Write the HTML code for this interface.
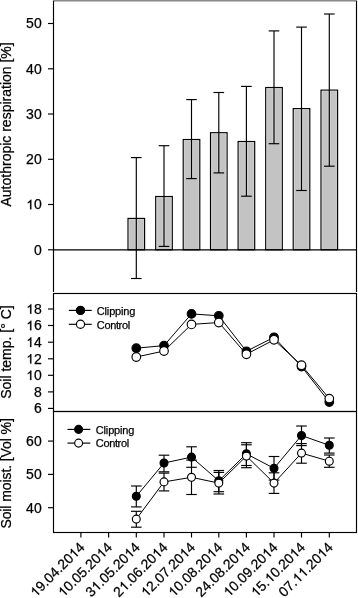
<!DOCTYPE html>
<html><head><meta charset="utf-8"><style>
html,body{margin:0;padding:0;background:#fff;}
body{width:358px;height:598px;overflow:hidden;}
svg{display:block;will-change:transform;-webkit-font-smoothing:antialiased;}
.t{font-family:"Liberation Sans", sans-serif;font-size:14px;fill:#000;}
.x{font-family:"Liberation Sans", sans-serif;font-size:14px;fill:#000;}
.s{font-family:"Liberation Sans", sans-serif;font-size:11px;fill:#000;}
text{stroke:#000;stroke-width:0.25px;}
</style></head><body>
<svg width="358" height="598" viewBox="0 0 358 598">
<rect x="53" y="0" width="304" height="1" fill="#8a8a8a"/>
<rect x="53" y="1" width="304" height="1" fill="#c0c0c0"/>
<line x1="53.5" y1="1" x2="53.5" y2="292" stroke="#000" stroke-width="1.15"/>
<line x1="356.5" y1="1" x2="356.5" y2="292" stroke="#000" stroke-width="1.15"/>
<line x1="48" y1="23.5" x2="53.5" y2="23.5" stroke="#000" stroke-width="1.15"/>
<text x="41.7" y="28.3" text-anchor="end" class="t">50</text>
<line x1="48" y1="68.8" x2="53.5" y2="68.8" stroke="#000" stroke-width="1.15"/>
<text x="41.7" y="73.6" text-anchor="end" class="t">40</text>
<line x1="48" y1="114.0" x2="53.5" y2="114.0" stroke="#000" stroke-width="1.15"/>
<text x="41.7" y="118.8" text-anchor="end" class="t">30</text>
<line x1="48" y1="159.3" x2="53.5" y2="159.3" stroke="#000" stroke-width="1.15"/>
<text x="41.7" y="164.1" text-anchor="end" class="t">20</text>
<line x1="48" y1="204.5" x2="53.5" y2="204.5" stroke="#000" stroke-width="1.15"/>
<text x="41.7" y="209.3" text-anchor="end" class="t"> 0</text>
<path transform="translate(26.128,209.300) scale(0.006836,-0.006836)" stroke="#000" stroke-width="36.6" d="M583,0L763,0L763,1409L646,1409Q600,1300 490,1200Q380,1100 248,1040L248,870Q330,900 420,955Q520,1015 583,1075Z"/>
<line x1="48" y1="249.8" x2="53.5" y2="249.8" stroke="#000" stroke-width="1.15"/>
<text x="41.7" y="254.6" text-anchor="end" class="t">0</text>
<rect x="128.00" y="218.4" width="16.6" height="31.4" fill="#c3c3c3" stroke="#000" stroke-width="1.15"/>
<rect x="155.70" y="196.5" width="16.6" height="53.3" fill="#c3c3c3" stroke="#000" stroke-width="1.15"/>
<rect x="183.20" y="139.5" width="16.6" height="110.3" fill="#c3c3c3" stroke="#000" stroke-width="1.15"/>
<rect x="210.50" y="132.7" width="16.6" height="117.1" fill="#c3c3c3" stroke="#000" stroke-width="1.15"/>
<rect x="238.10" y="141.5" width="16.6" height="108.3" fill="#c3c3c3" stroke="#000" stroke-width="1.15"/>
<rect x="265.70" y="87.5" width="16.6" height="162.3" fill="#c3c3c3" stroke="#000" stroke-width="1.15"/>
<rect x="293.20" y="108.6" width="16.6" height="141.2" fill="#c3c3c3" stroke="#000" stroke-width="1.15"/>
<rect x="321.00" y="90.1" width="16.6" height="159.7" fill="#c3c3c3" stroke="#000" stroke-width="1.15"/>
<line x1="129.25" y1="219.6" x2="129.25" y2="248.8" stroke="#d2d2d2" stroke-width="0.8"/>
<line x1="143.35" y1="219.6" x2="143.35" y2="248.8" stroke="#d2d2d2" stroke-width="0.8"/>
<line x1="135.05" y1="219.6" x2="135.05" y2="248.8" stroke="#d2d2d2" stroke-width="0.8"/>
<line x1="137.55" y1="219.6" x2="137.55" y2="248.8" stroke="#d2d2d2" stroke-width="0.8"/>
<line x1="129.00" y1="219.7" x2="143.60" y2="219.7" stroke="#d2d2d2" stroke-width="0.8"/>
<line x1="156.95" y1="197.7" x2="156.95" y2="248.8" stroke="#d2d2d2" stroke-width="0.8"/>
<line x1="171.05" y1="197.7" x2="171.05" y2="248.8" stroke="#d2d2d2" stroke-width="0.8"/>
<line x1="162.75" y1="197.7" x2="162.75" y2="245.2" stroke="#d2d2d2" stroke-width="0.8"/>
<line x1="165.25" y1="197.7" x2="165.25" y2="245.2" stroke="#d2d2d2" stroke-width="0.8"/>
<line x1="156.70" y1="197.8" x2="171.30" y2="197.8" stroke="#d2d2d2" stroke-width="0.8"/>
<line x1="184.45" y1="140.7" x2="184.45" y2="248.8" stroke="#d2d2d2" stroke-width="0.8"/>
<line x1="198.55" y1="140.7" x2="198.55" y2="248.8" stroke="#d2d2d2" stroke-width="0.8"/>
<line x1="190.25" y1="140.7" x2="190.25" y2="177.4" stroke="#d2d2d2" stroke-width="0.8"/>
<line x1="192.75" y1="140.7" x2="192.75" y2="177.4" stroke="#d2d2d2" stroke-width="0.8"/>
<line x1="184.20" y1="140.8" x2="198.80" y2="140.8" stroke="#d2d2d2" stroke-width="0.8"/>
<line x1="211.75" y1="133.9" x2="211.75" y2="248.8" stroke="#d2d2d2" stroke-width="0.8"/>
<line x1="225.85" y1="133.9" x2="225.85" y2="248.8" stroke="#d2d2d2" stroke-width="0.8"/>
<line x1="217.55" y1="133.9" x2="217.55" y2="171.7" stroke="#d2d2d2" stroke-width="0.8"/>
<line x1="220.05" y1="133.9" x2="220.05" y2="171.7" stroke="#d2d2d2" stroke-width="0.8"/>
<line x1="211.50" y1="133.9" x2="226.10" y2="133.9" stroke="#d2d2d2" stroke-width="0.8"/>
<line x1="239.35" y1="142.7" x2="239.35" y2="248.8" stroke="#d2d2d2" stroke-width="0.8"/>
<line x1="253.45" y1="142.7" x2="253.45" y2="248.8" stroke="#d2d2d2" stroke-width="0.8"/>
<line x1="245.15" y1="142.7" x2="245.15" y2="195.0" stroke="#d2d2d2" stroke-width="0.8"/>
<line x1="247.65" y1="142.7" x2="247.65" y2="195.0" stroke="#d2d2d2" stroke-width="0.8"/>
<line x1="239.10" y1="142.8" x2="253.70" y2="142.8" stroke="#d2d2d2" stroke-width="0.8"/>
<line x1="266.95" y1="88.7" x2="266.95" y2="248.8" stroke="#d2d2d2" stroke-width="0.8"/>
<line x1="281.05" y1="88.7" x2="281.05" y2="248.8" stroke="#d2d2d2" stroke-width="0.8"/>
<line x1="272.75" y1="88.7" x2="272.75" y2="142.5" stroke="#d2d2d2" stroke-width="0.8"/>
<line x1="275.25" y1="88.7" x2="275.25" y2="142.5" stroke="#d2d2d2" stroke-width="0.8"/>
<line x1="266.70" y1="88.8" x2="281.30" y2="88.8" stroke="#d2d2d2" stroke-width="0.8"/>
<line x1="294.45" y1="109.8" x2="294.45" y2="248.8" stroke="#d2d2d2" stroke-width="0.8"/>
<line x1="308.55" y1="109.8" x2="308.55" y2="248.8" stroke="#d2d2d2" stroke-width="0.8"/>
<line x1="300.25" y1="109.8" x2="300.25" y2="189.3" stroke="#d2d2d2" stroke-width="0.8"/>
<line x1="302.75" y1="109.8" x2="302.75" y2="189.3" stroke="#d2d2d2" stroke-width="0.8"/>
<line x1="294.20" y1="109.8" x2="308.80" y2="109.8" stroke="#d2d2d2" stroke-width="0.8"/>
<line x1="322.25" y1="91.3" x2="322.25" y2="248.8" stroke="#d2d2d2" stroke-width="0.8"/>
<line x1="336.35" y1="91.3" x2="336.35" y2="248.8" stroke="#d2d2d2" stroke-width="0.8"/>
<line x1="328.05" y1="91.3" x2="328.05" y2="165.0" stroke="#d2d2d2" stroke-width="0.8"/>
<line x1="330.55" y1="91.3" x2="330.55" y2="165.0" stroke="#d2d2d2" stroke-width="0.8"/>
<line x1="322.00" y1="91.3" x2="336.60" y2="91.3" stroke="#d2d2d2" stroke-width="0.8"/>
<line x1="136.30" y1="157.6" x2="136.30" y2="278.5" stroke="#000" stroke-width="1.15"/>
<line x1="131.00" y1="157.6" x2="141.60" y2="157.6" stroke="#000" stroke-width="1.15"/>
<line x1="131.00" y1="278.5" x2="141.60" y2="278.5" stroke="#000" stroke-width="1.15"/>
<line x1="164.00" y1="145.7" x2="164.00" y2="246.4" stroke="#000" stroke-width="1.15"/>
<line x1="158.70" y1="145.7" x2="169.30" y2="145.7" stroke="#000" stroke-width="1.15"/>
<line x1="158.70" y1="246.4" x2="169.30" y2="246.4" stroke="#000" stroke-width="1.15"/>
<line x1="191.50" y1="99.6" x2="191.50" y2="178.6" stroke="#000" stroke-width="1.15"/>
<line x1="186.20" y1="99.6" x2="196.80" y2="99.6" stroke="#000" stroke-width="1.15"/>
<line x1="186.20" y1="178.6" x2="196.80" y2="178.6" stroke="#000" stroke-width="1.15"/>
<line x1="218.80" y1="92.5" x2="218.80" y2="172.9" stroke="#000" stroke-width="1.15"/>
<line x1="213.50" y1="92.5" x2="224.10" y2="92.5" stroke="#000" stroke-width="1.15"/>
<line x1="213.50" y1="172.9" x2="224.10" y2="172.9" stroke="#000" stroke-width="1.15"/>
<line x1="246.40" y1="86.4" x2="246.40" y2="196.2" stroke="#000" stroke-width="1.15"/>
<line x1="241.10" y1="86.4" x2="251.70" y2="86.4" stroke="#000" stroke-width="1.15"/>
<line x1="241.10" y1="196.2" x2="251.70" y2="196.2" stroke="#000" stroke-width="1.15"/>
<line x1="274.00" y1="30.9" x2="274.00" y2="143.7" stroke="#000" stroke-width="1.15"/>
<line x1="268.70" y1="30.9" x2="279.30" y2="30.9" stroke="#000" stroke-width="1.15"/>
<line x1="268.70" y1="143.7" x2="279.30" y2="143.7" stroke="#000" stroke-width="1.15"/>
<line x1="301.50" y1="27.1" x2="301.50" y2="190.5" stroke="#000" stroke-width="1.15"/>
<line x1="296.20" y1="27.1" x2="306.80" y2="27.1" stroke="#000" stroke-width="1.15"/>
<line x1="296.20" y1="190.5" x2="306.80" y2="190.5" stroke="#000" stroke-width="1.15"/>
<line x1="329.30" y1="14.0" x2="329.30" y2="166.2" stroke="#000" stroke-width="1.15"/>
<line x1="324.00" y1="14.0" x2="334.60" y2="14.0" stroke="#000" stroke-width="1.15"/>
<line x1="324.00" y1="166.2" x2="334.60" y2="166.2" stroke="#000" stroke-width="1.15"/>
<line x1="53.5" y1="249.8" x2="356.5" y2="249.8" stroke="#000" stroke-width="1.15"/>
<text transform="translate(10.6,206.5) rotate(-90)" class="t">Autothropic respiration [%]</text>
<rect x="53.5" y="293.5" width="303" height="118" fill="none" stroke="#000" stroke-width="1.15"/>
<line x1="48" y1="309.0" x2="53.5" y2="309.0" stroke="#000" stroke-width="1.15"/>
<text x="41.7" y="313.8" text-anchor="end" class="t"> 8</text>
<path transform="translate(26.128,313.800) scale(0.006836,-0.006836)" stroke="#000" stroke-width="36.6" d="M583,0L763,0L763,1409L646,1409Q600,1300 490,1200Q380,1100 248,1040L248,870Q330,900 420,955Q520,1015 583,1075Z"/>
<line x1="48" y1="325.5" x2="53.5" y2="325.5" stroke="#000" stroke-width="1.15"/>
<text x="41.7" y="330.3" text-anchor="end" class="t"> 6</text>
<path transform="translate(26.128,330.300) scale(0.006836,-0.006836)" stroke="#000" stroke-width="36.6" d="M583,0L763,0L763,1409L646,1409Q600,1300 490,1200Q380,1100 248,1040L248,870Q330,900 420,955Q520,1015 583,1075Z"/>
<line x1="48" y1="342.2" x2="53.5" y2="342.2" stroke="#000" stroke-width="1.15"/>
<text x="41.7" y="347.0" text-anchor="end" class="t"> 4</text>
<path transform="translate(26.128,347.000) scale(0.006836,-0.006836)" stroke="#000" stroke-width="36.6" d="M583,0L763,0L763,1409L646,1409Q600,1300 490,1200Q380,1100 248,1040L248,870Q330,900 420,955Q520,1015 583,1075Z"/>
<line x1="48" y1="358.8" x2="53.5" y2="358.8" stroke="#000" stroke-width="1.15"/>
<text x="41.7" y="363.6" text-anchor="end" class="t"> 2</text>
<path transform="translate(26.128,363.600) scale(0.006836,-0.006836)" stroke="#000" stroke-width="36.6" d="M583,0L763,0L763,1409L646,1409Q600,1300 490,1200Q380,1100 248,1040L248,870Q330,900 420,955Q520,1015 583,1075Z"/>
<line x1="48" y1="375.3" x2="53.5" y2="375.3" stroke="#000" stroke-width="1.15"/>
<text x="41.7" y="380.1" text-anchor="end" class="t"> 0</text>
<path transform="translate(26.128,380.100) scale(0.006836,-0.006836)" stroke="#000" stroke-width="36.6" d="M583,0L763,0L763,1409L646,1409Q600,1300 490,1200Q380,1100 248,1040L248,870Q330,900 420,955Q520,1015 583,1075Z"/>
<line x1="48" y1="391.9" x2="53.5" y2="391.9" stroke="#000" stroke-width="1.15"/>
<text x="41.7" y="396.7" text-anchor="end" class="t">8</text>
<line x1="48" y1="408.4" x2="53.5" y2="408.4" stroke="#000" stroke-width="1.15"/>
<text x="41.7" y="413.2" text-anchor="end" class="t">6</text>
<path d="M136.30,348.2 L164.00,345.6 L191.50,313.9 L218.80,315.8 L246.40,351.3 L274.00,337.3 L301.50,366.5 L329.30,402.0" fill="none" stroke="#000" stroke-width="1"/>
<circle cx="136.30" cy="348.2" r="4.3" fill="#000" stroke="#000" stroke-width="1.15"/>
<circle cx="164.00" cy="345.6" r="4.3" fill="#000" stroke="#000" stroke-width="1.15"/>
<circle cx="191.50" cy="313.9" r="4.3" fill="#000" stroke="#000" stroke-width="1.15"/>
<circle cx="218.80" cy="315.8" r="4.3" fill="#000" stroke="#000" stroke-width="1.15"/>
<circle cx="246.40" cy="351.3" r="4.3" fill="#000" stroke="#000" stroke-width="1.15"/>
<circle cx="274.00" cy="337.3" r="4.3" fill="#000" stroke="#000" stroke-width="1.15"/>
<circle cx="301.50" cy="366.5" r="4.3" fill="#000" stroke="#000" stroke-width="1.15"/>
<circle cx="329.30" cy="402.0" r="4.3" fill="#000" stroke="#000" stroke-width="1.15"/>
<path d="M136.30,357.0 L164.00,351.0 L191.50,324.4 L218.80,322.5 L246.40,354.3 L274.00,339.8 L301.50,365.2 L329.30,398.6" fill="none" stroke="#000" stroke-width="1"/>
<circle cx="136.30" cy="357.0" r="4.3" fill="#fff" stroke="#000" stroke-width="1.15"/>
<circle cx="164.00" cy="351.0" r="4.3" fill="#fff" stroke="#000" stroke-width="1.15"/>
<circle cx="191.50" cy="324.4" r="4.3" fill="#fff" stroke="#000" stroke-width="1.15"/>
<circle cx="218.80" cy="322.5" r="4.3" fill="#fff" stroke="#000" stroke-width="1.15"/>
<circle cx="246.40" cy="354.3" r="4.3" fill="#fff" stroke="#000" stroke-width="1.15"/>
<circle cx="274.00" cy="339.8" r="4.3" fill="#fff" stroke="#000" stroke-width="1.15"/>
<circle cx="301.50" cy="365.2" r="4.3" fill="#fff" stroke="#000" stroke-width="1.15"/>
<circle cx="329.30" cy="398.6" r="4.3" fill="#fff" stroke="#000" stroke-width="1.15"/>
<line x1="68.8" y1="310.4" x2="91.7" y2="310.4" stroke="#000" stroke-width="1.15"/>
<circle cx="80.5" cy="310.4" r="4.1" fill="#000" stroke="#000" stroke-width="1.15"/>
<text x="96.8" y="314.6" textLength="38.6" lengthAdjust="spacing" class="s">Clipping</text>
<line x1="68.8" y1="324.3" x2="91.7" y2="324.3" stroke="#000" stroke-width="1.15"/>
<circle cx="80.5" cy="324.3" r="4.1" fill="#fff" stroke="#000" stroke-width="1.15"/>
<text x="96.8" y="328.5" textLength="33.3" lengthAdjust="spacing" class="s">Control</text>
<text transform="translate(10.6,398.8) rotate(-90)" class="t">Soil temp.  [° C]</text>
<rect x="53.5" y="411.5" width="303" height="121" fill="none" stroke="#000" stroke-width="1.15"/>
<line x1="48" y1="441.1" x2="53.5" y2="441.1" stroke="#000" stroke-width="1.15"/>
<text x="41.7" y="445.9" text-anchor="end" class="t">60</text>
<line x1="48" y1="474.4" x2="53.5" y2="474.4" stroke="#000" stroke-width="1.15"/>
<text x="41.7" y="479.2" text-anchor="end" class="t">50</text>
<line x1="48" y1="507.7" x2="53.5" y2="507.7" stroke="#000" stroke-width="1.15"/>
<text x="41.7" y="512.5" text-anchor="end" class="t">40</text>
<path d="M136.30,496.3 L164.00,463.0 L191.50,457.1 L218.80,480.8 L246.40,453.8 L274.00,468.3 L301.50,435.5 L329.30,445.3" fill="none" stroke="#000" stroke-width="1"/>
<line x1="136.30" y1="486.0" x2="136.30" y2="506.9" stroke="#000" stroke-width="1.15"/>
<line x1="131.00" y1="486.0" x2="141.60" y2="486.0" stroke="#000" stroke-width="1.15"/>
<line x1="131.00" y1="506.9" x2="141.60" y2="506.9" stroke="#000" stroke-width="1.15"/>
<line x1="164.00" y1="455.2" x2="164.00" y2="471.8" stroke="#000" stroke-width="1.15"/>
<line x1="158.70" y1="455.2" x2="169.30" y2="455.2" stroke="#000" stroke-width="1.15"/>
<line x1="158.70" y1="471.8" x2="169.30" y2="471.8" stroke="#000" stroke-width="1.15"/>
<line x1="191.50" y1="446.8" x2="191.50" y2="467.3" stroke="#000" stroke-width="1.15"/>
<line x1="186.20" y1="446.8" x2="196.80" y2="446.8" stroke="#000" stroke-width="1.15"/>
<line x1="186.20" y1="467.3" x2="196.80" y2="467.3" stroke="#000" stroke-width="1.15"/>
<line x1="218.80" y1="470.5" x2="218.80" y2="491.7" stroke="#000" stroke-width="1.15"/>
<line x1="213.50" y1="470.5" x2="224.10" y2="470.5" stroke="#000" stroke-width="1.15"/>
<line x1="213.50" y1="491.7" x2="224.10" y2="491.7" stroke="#000" stroke-width="1.15"/>
<line x1="246.40" y1="442.7" x2="246.40" y2="465.5" stroke="#000" stroke-width="1.15"/>
<line x1="241.10" y1="442.7" x2="251.70" y2="442.7" stroke="#000" stroke-width="1.15"/>
<line x1="241.10" y1="465.5" x2="251.70" y2="465.5" stroke="#000" stroke-width="1.15"/>
<line x1="274.00" y1="456.5" x2="274.00" y2="480.1" stroke="#000" stroke-width="1.15"/>
<line x1="268.70" y1="456.5" x2="279.30" y2="456.5" stroke="#000" stroke-width="1.15"/>
<line x1="268.70" y1="480.1" x2="279.30" y2="480.1" stroke="#000" stroke-width="1.15"/>
<line x1="301.50" y1="426.0" x2="301.50" y2="445.6" stroke="#000" stroke-width="1.15"/>
<line x1="296.20" y1="426.0" x2="306.80" y2="426.0" stroke="#000" stroke-width="1.15"/>
<line x1="296.20" y1="445.6" x2="306.80" y2="445.6" stroke="#000" stroke-width="1.15"/>
<line x1="329.30" y1="438.0" x2="329.30" y2="453.1" stroke="#000" stroke-width="1.15"/>
<line x1="324.00" y1="438.0" x2="334.60" y2="438.0" stroke="#000" stroke-width="1.15"/>
<line x1="324.00" y1="453.1" x2="334.60" y2="453.1" stroke="#000" stroke-width="1.15"/>
<circle cx="136.30" cy="496.3" r="3.95" fill="#000" stroke="#000" stroke-width="1.15"/>
<circle cx="164.00" cy="463.0" r="3.95" fill="#000" stroke="#000" stroke-width="1.15"/>
<circle cx="191.50" cy="457.1" r="3.95" fill="#000" stroke="#000" stroke-width="1.15"/>
<circle cx="218.80" cy="480.8" r="3.95" fill="#000" stroke="#000" stroke-width="1.15"/>
<circle cx="246.40" cy="453.8" r="3.95" fill="#000" stroke="#000" stroke-width="1.15"/>
<circle cx="274.00" cy="468.3" r="3.95" fill="#000" stroke="#000" stroke-width="1.15"/>
<circle cx="301.50" cy="435.5" r="3.95" fill="#000" stroke="#000" stroke-width="1.15"/>
<circle cx="329.30" cy="445.3" r="3.95" fill="#000" stroke="#000" stroke-width="1.15"/>
<path d="M136.30,519.1 L164.00,481.9 L191.50,477.3 L218.80,483.1 L246.40,456.1 L274.00,483.1 L301.50,453.1 L329.30,461.2" fill="none" stroke="#000" stroke-width="1"/>
<line x1="136.30" y1="511.3" x2="136.30" y2="527.2" stroke="#000" stroke-width="1.15"/>
<line x1="131.00" y1="511.3" x2="141.60" y2="511.3" stroke="#000" stroke-width="1.15"/>
<line x1="131.00" y1="527.2" x2="141.60" y2="527.2" stroke="#000" stroke-width="1.15"/>
<line x1="164.00" y1="473.1" x2="164.00" y2="490.9" stroke="#000" stroke-width="1.15"/>
<line x1="158.70" y1="473.1" x2="169.30" y2="473.1" stroke="#000" stroke-width="1.15"/>
<line x1="158.70" y1="490.9" x2="169.30" y2="490.9" stroke="#000" stroke-width="1.15"/>
<line x1="191.50" y1="460.1" x2="191.50" y2="494.5" stroke="#000" stroke-width="1.15"/>
<line x1="186.20" y1="460.1" x2="196.80" y2="460.1" stroke="#000" stroke-width="1.15"/>
<line x1="186.20" y1="494.5" x2="196.80" y2="494.5" stroke="#000" stroke-width="1.15"/>
<line x1="218.80" y1="472.4" x2="218.80" y2="494.0" stroke="#000" stroke-width="1.15"/>
<line x1="213.50" y1="472.4" x2="224.10" y2="472.4" stroke="#000" stroke-width="1.15"/>
<line x1="213.50" y1="494.0" x2="224.10" y2="494.0" stroke="#000" stroke-width="1.15"/>
<line x1="246.40" y1="444.8" x2="246.40" y2="467.7" stroke="#000" stroke-width="1.15"/>
<line x1="241.10" y1="444.8" x2="251.70" y2="444.8" stroke="#000" stroke-width="1.15"/>
<line x1="241.10" y1="467.7" x2="251.70" y2="467.7" stroke="#000" stroke-width="1.15"/>
<line x1="274.00" y1="472.8" x2="274.00" y2="493.4" stroke="#000" stroke-width="1.15"/>
<line x1="268.70" y1="472.8" x2="279.30" y2="472.8" stroke="#000" stroke-width="1.15"/>
<line x1="268.70" y1="493.4" x2="279.30" y2="493.4" stroke="#000" stroke-width="1.15"/>
<line x1="301.50" y1="443.6" x2="301.50" y2="463.2" stroke="#000" stroke-width="1.15"/>
<line x1="296.20" y1="443.6" x2="306.80" y2="443.6" stroke="#000" stroke-width="1.15"/>
<line x1="296.20" y1="463.2" x2="306.80" y2="463.2" stroke="#000" stroke-width="1.15"/>
<line x1="329.30" y1="455.0" x2="329.30" y2="467.3" stroke="#000" stroke-width="1.15"/>
<line x1="324.00" y1="455.0" x2="334.60" y2="455.0" stroke="#000" stroke-width="1.15"/>
<line x1="324.00" y1="467.3" x2="334.60" y2="467.3" stroke="#000" stroke-width="1.15"/>
<circle cx="136.30" cy="519.1" r="3.95" fill="#fff" stroke="#000" stroke-width="1.15"/>
<circle cx="164.00" cy="481.9" r="3.95" fill="#fff" stroke="#000" stroke-width="1.15"/>
<circle cx="191.50" cy="477.3" r="3.95" fill="#fff" stroke="#000" stroke-width="1.15"/>
<circle cx="218.80" cy="483.1" r="3.95" fill="#fff" stroke="#000" stroke-width="1.15"/>
<circle cx="246.40" cy="456.1" r="3.95" fill="#fff" stroke="#000" stroke-width="1.15"/>
<circle cx="274.00" cy="483.1" r="3.95" fill="#fff" stroke="#000" stroke-width="1.15"/>
<circle cx="301.50" cy="453.1" r="3.95" fill="#fff" stroke="#000" stroke-width="1.15"/>
<circle cx="329.30" cy="461.2" r="3.95" fill="#fff" stroke="#000" stroke-width="1.15"/>
<line x1="67.5" y1="429.4" x2="90.3" y2="429.4" stroke="#000" stroke-width="1.15"/>
<circle cx="78.6" cy="429.4" r="3.95" fill="#000" stroke="#000" stroke-width="1.15"/>
<text x="95.8" y="433.6" textLength="38.6" lengthAdjust="spacing" class="s">Clipping</text>
<line x1="67.5" y1="443.1" x2="90.3" y2="443.1" stroke="#000" stroke-width="1.15"/>
<circle cx="78.6" cy="443.1" r="3.95" fill="#fff" stroke="#000" stroke-width="1.15"/>
<text x="95.8" y="447.3" textLength="33.3" lengthAdjust="spacing" class="s">Control</text>
<text transform="translate(10.6,528.6) rotate(-90)" textLength="110.4" lengthAdjust="spacing" class="t">Soil moist.  [Vol %]</text>
<line x1="80.90" y1="532" x2="80.90" y2="537.5" stroke="#000" stroke-width="1.15"/>
<text transform="translate(85.40,548.2) rotate(-45)" text-anchor="end" class="x"> 9.04.20 4</text>
<path transform="translate(85.40,548.2) rotate(-45) translate(-70.068,0.000) scale(0.006836,-0.006836)" stroke="#000" stroke-width="36.6" d="M583,0L763,0L763,1409L646,1409Q600,1300 490,1200Q380,1100 248,1040L248,870Q330,900 420,955Q520,1015 583,1075Z"/>
<path transform="translate(85.40,548.2) rotate(-45) translate(-15.572,0.000) scale(0.006836,-0.006836)" stroke="#000" stroke-width="36.6" d="M583,0L763,0L763,1409L646,1409Q600,1300 490,1200Q380,1100 248,1040L248,870Q330,900 420,955Q520,1015 583,1075Z"/>
<line x1="108.60" y1="532" x2="108.60" y2="537.5" stroke="#000" stroke-width="1.15"/>
<text transform="translate(113.10,548.2) rotate(-45)" text-anchor="end" class="x"> 0.05.20 4</text>
<path transform="translate(113.10,548.2) rotate(-45) translate(-70.068,0.000) scale(0.006836,-0.006836)" stroke="#000" stroke-width="36.6" d="M583,0L763,0L763,1409L646,1409Q600,1300 490,1200Q380,1100 248,1040L248,870Q330,900 420,955Q520,1015 583,1075Z"/>
<path transform="translate(113.10,548.2) rotate(-45) translate(-15.572,0.000) scale(0.006836,-0.006836)" stroke="#000" stroke-width="36.6" d="M583,0L763,0L763,1409L646,1409Q600,1300 490,1200Q380,1100 248,1040L248,870Q330,900 420,955Q520,1015 583,1075Z"/>
<line x1="136.30" y1="532" x2="136.30" y2="537.5" stroke="#000" stroke-width="1.15"/>
<text transform="translate(140.80,548.2) rotate(-45)" text-anchor="end" class="x">3 .05.20 4</text>
<path transform="translate(140.80,548.2) rotate(-45) translate(-62.282,0.000) scale(0.006836,-0.006836)" stroke="#000" stroke-width="36.6" d="M583,0L763,0L763,1409L646,1409Q600,1300 490,1200Q380,1100 248,1040L248,870Q330,900 420,955Q520,1015 583,1075Z"/>
<path transform="translate(140.80,548.2) rotate(-45) translate(-15.572,0.000) scale(0.006836,-0.006836)" stroke="#000" stroke-width="36.6" d="M583,0L763,0L763,1409L646,1409Q600,1300 490,1200Q380,1100 248,1040L248,870Q330,900 420,955Q520,1015 583,1075Z"/>
<line x1="164.00" y1="532" x2="164.00" y2="537.5" stroke="#000" stroke-width="1.15"/>
<text transform="translate(168.50,548.2) rotate(-45)" text-anchor="end" class="x">2 .06.20 4</text>
<path transform="translate(168.50,548.2) rotate(-45) translate(-62.282,0.000) scale(0.006836,-0.006836)" stroke="#000" stroke-width="36.6" d="M583,0L763,0L763,1409L646,1409Q600,1300 490,1200Q380,1100 248,1040L248,870Q330,900 420,955Q520,1015 583,1075Z"/>
<path transform="translate(168.50,548.2) rotate(-45) translate(-15.572,0.000) scale(0.006836,-0.006836)" stroke="#000" stroke-width="36.6" d="M583,0L763,0L763,1409L646,1409Q600,1300 490,1200Q380,1100 248,1040L248,870Q330,900 420,955Q520,1015 583,1075Z"/>
<line x1="191.50" y1="532" x2="191.50" y2="537.5" stroke="#000" stroke-width="1.15"/>
<text transform="translate(196.00,548.2) rotate(-45)" text-anchor="end" class="x"> 2.07.20 4</text>
<path transform="translate(196.00,548.2) rotate(-45) translate(-70.068,0.000) scale(0.006836,-0.006836)" stroke="#000" stroke-width="36.6" d="M583,0L763,0L763,1409L646,1409Q600,1300 490,1200Q380,1100 248,1040L248,870Q330,900 420,955Q520,1015 583,1075Z"/>
<path transform="translate(196.00,548.2) rotate(-45) translate(-15.572,0.000) scale(0.006836,-0.006836)" stroke="#000" stroke-width="36.6" d="M583,0L763,0L763,1409L646,1409Q600,1300 490,1200Q380,1100 248,1040L248,870Q330,900 420,955Q520,1015 583,1075Z"/>
<line x1="218.80" y1="532" x2="218.80" y2="537.5" stroke="#000" stroke-width="1.15"/>
<text transform="translate(223.30,548.2) rotate(-45)" text-anchor="end" class="x"> 0.08.20 4</text>
<path transform="translate(223.30,548.2) rotate(-45) translate(-70.068,0.000) scale(0.006836,-0.006836)" stroke="#000" stroke-width="36.6" d="M583,0L763,0L763,1409L646,1409Q600,1300 490,1200Q380,1100 248,1040L248,870Q330,900 420,955Q520,1015 583,1075Z"/>
<path transform="translate(223.30,548.2) rotate(-45) translate(-15.572,0.000) scale(0.006836,-0.006836)" stroke="#000" stroke-width="36.6" d="M583,0L763,0L763,1409L646,1409Q600,1300 490,1200Q380,1100 248,1040L248,870Q330,900 420,955Q520,1015 583,1075Z"/>
<line x1="246.40" y1="532" x2="246.40" y2="537.5" stroke="#000" stroke-width="1.15"/>
<text transform="translate(250.90,548.2) rotate(-45)" text-anchor="end" class="x">24.08.20 4</text>
<path transform="translate(250.90,548.2) rotate(-45) translate(-15.572,0.000) scale(0.006836,-0.006836)" stroke="#000" stroke-width="36.6" d="M583,0L763,0L763,1409L646,1409Q600,1300 490,1200Q380,1100 248,1040L248,870Q330,900 420,955Q520,1015 583,1075Z"/>
<line x1="274.00" y1="532" x2="274.00" y2="537.5" stroke="#000" stroke-width="1.15"/>
<text transform="translate(278.50,548.2) rotate(-45)" text-anchor="end" class="x"> 0.09.20 4</text>
<path transform="translate(278.50,548.2) rotate(-45) translate(-70.068,0.000) scale(0.006836,-0.006836)" stroke="#000" stroke-width="36.6" d="M583,0L763,0L763,1409L646,1409Q600,1300 490,1200Q380,1100 248,1040L248,870Q330,900 420,955Q520,1015 583,1075Z"/>
<path transform="translate(278.50,548.2) rotate(-45) translate(-15.572,0.000) scale(0.006836,-0.006836)" stroke="#000" stroke-width="36.6" d="M583,0L763,0L763,1409L646,1409Q600,1300 490,1200Q380,1100 248,1040L248,870Q330,900 420,955Q520,1015 583,1075Z"/>
<line x1="301.50" y1="532" x2="301.50" y2="537.5" stroke="#000" stroke-width="1.15"/>
<text transform="translate(306.00,548.2) rotate(-45)" text-anchor="end" class="x"> 5. 0.20 4</text>
<path transform="translate(306.00,548.2) rotate(-45) translate(-70.068,0.000) scale(0.006836,-0.006836)" stroke="#000" stroke-width="36.6" d="M583,0L763,0L763,1409L646,1409Q600,1300 490,1200Q380,1100 248,1040L248,870Q330,900 420,955Q520,1015 583,1075Z"/>
<path transform="translate(306.00,548.2) rotate(-45) translate(-50.606,0.000) scale(0.006836,-0.006836)" stroke="#000" stroke-width="36.6" d="M583,0L763,0L763,1409L646,1409Q600,1300 490,1200Q380,1100 248,1040L248,870Q330,900 420,955Q520,1015 583,1075Z"/>
<path transform="translate(306.00,548.2) rotate(-45) translate(-15.572,0.000) scale(0.006836,-0.006836)" stroke="#000" stroke-width="36.6" d="M583,0L763,0L763,1409L646,1409Q600,1300 490,1200Q380,1100 248,1040L248,870Q330,900 420,955Q520,1015 583,1075Z"/>
<line x1="329.30" y1="532" x2="329.30" y2="537.5" stroke="#000" stroke-width="1.15"/>
<text transform="translate(333.80,548.2) rotate(-45)" text-anchor="end" class="x">07.  .20 4</text>
<path transform="translate(333.80,548.2) rotate(-45) translate(-50.606,0.000) scale(0.006836,-0.006836)" stroke="#000" stroke-width="36.6" d="M583,0L763,0L763,1409L646,1409Q600,1300 490,1200Q380,1100 248,1040L248,870Q330,900 420,955Q520,1015 583,1075Z"/>
<path transform="translate(333.80,548.2) rotate(-45) translate(-42.820,0.000) scale(0.006836,-0.006836)" stroke="#000" stroke-width="36.6" d="M583,0L763,0L763,1409L646,1409Q600,1300 490,1200Q380,1100 248,1040L248,870Q330,900 420,955Q520,1015 583,1075Z"/>
<path transform="translate(333.80,548.2) rotate(-45) translate(-15.572,0.000) scale(0.006836,-0.006836)" stroke="#000" stroke-width="36.6" d="M583,0L763,0L763,1409L646,1409Q600,1300 490,1200Q380,1100 248,1040L248,870Q330,900 420,955Q520,1015 583,1075Z"/>
</svg>
</body></html>
